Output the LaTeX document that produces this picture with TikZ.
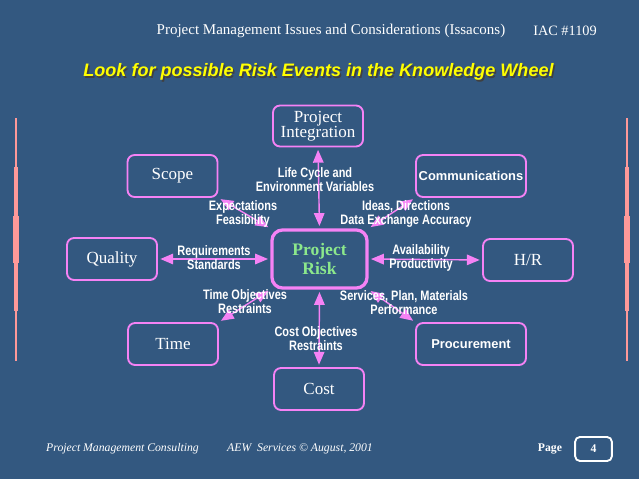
\documentclass[tikz,border=0pt]{standalone}
\usepackage{fontspec}
\setmainfont{Liberation Serif}
\setsansfont{Liberation Sans}
\newfontfamily\narrowsans[FakeStretch=0.8]{Liberation Sans}
\usetikzlibrary{arrows.meta}
\definecolor{slidebg}{RGB}{51,88,128}
\definecolor{wheelpink}{RGB}{245,130,245}
\definecolor{riskgreen}{RGB}{140,232,140}
\definecolor{strippink}{RGB}{255,153,153}
\definecolor{titleyellow}{RGB}{255,255,0}

\begin{document}
\begin{tikzpicture}[x=0.03cm,y=-0.03cm,
    area/.style={draw=wheelpink,line width=1.6pt,rounded corners=6pt,text=white,align=center,
        minimum width=2.7cm,minimum height=1.26cm,inner sep=1pt,font=\fontsize{14.5}{13}\selectfont},
    wide/.style={area,minimum width=3.3cm,font=\sffamily\bfseries\fontsize{11}{12}\selectfont},
    link/.style={wheelpink,line width=1.2pt,{Triangle[length=11pt,width=9pt]}-{Triangle[length=11pt,width=9pt]},
        shorten <=2pt,shorten >=2pt},
    lbl/.style={text=white,align=center,inner sep=0pt,font=\narrowsans\bfseries\fontsize{11.7}{12}\selectfont}]
    % background
    \fill[slidebg] (0,0) rectangle (639,479);
    \useasboundingbox (0,0) rectangle (639,479);
    % side strips
    \foreach \cx in {15.5,627} {
        \fill[strippink] (\cx-1,118) rectangle (\cx+1,361);
        \fill[strippink] (\cx-2,167) rectangle (\cx+2,311);
        \fill[strippink] (\cx-3,216) rectangle (\cx+3,263);
    }
    % header and title
    \node[text=white,font=\fontsize{12.8}{14}\selectfont] (head) at (331,31) {Project Management Issues and Considerations (Issacons)};
    \node[text=white,font=\fontsize{12.2}{14}\selectfont] (iac) at (565,31) {IAC \#1109};
    \node[text=black!75,font=\sffamily\bfseries\itshape\fontsize{15.4}{17}\selectfont] (shadow) at (320,73.5) {Look for possible Risk Events in the Knowledge Wheel};
    \node[text=titleyellow,font=\sffamily\bfseries\itshape\fontsize{15.4}{17}\selectfont] (title) at (318.5,72) {Look for possible Risk Events in the Knowledge Wheel};
    % knowledge areas
    \node[area,minimum height=1.23cm] (integ) at (318,126) {Project\\Integration};
    \node[area] (scope) at (172.5,176) {Scope};
    \node[wide] (comm) at (471,176) {Communications};
    \node[area] (quality) at (112,259) {Quality};
    \node[area] (hr) at (528,260) {H/R};
    \node[area] (time) at (173,344) {Time};
    \node[wide] (proc) at (471,344) {Procurement};
    \node[area] (cost) at (319,389) {Cost};
    % centre
    \node[area,line width=2.8pt,rounded corners=9pt,minimum width=2.85cm,minimum height=1.74cm,
        text=riskgreen,font=\bfseries\fontsize{15}{17}\selectfont] (risk) at (319.5,259) {Project\\Risk};
    % connectors
    \foreach \a/\b in {integ.south/risk.north,scope.south east/risk.north west,comm.south west/risk.north east,
        quality.east/risk.west,hr.west/risk.east,time.north east/risk.south west,
        proc.north west/risk.south east,cost.north/risk.south}
        \draw[link] (\a) -- (\b);
    % labels
    \node[lbl] (l-integ) at (315,180) {Life Cycle and\\Environment Variables};
    \node[lbl] (l-scope) at (243,214) {Expectations\\Feasibility};
    \node[lbl] (l-comm) at (406,214) {Ideas, Directions\\Data Exchange Accuracy};
    \node[lbl] (l-quality) at (214,258) {Requirements\\Standards};
    \node[lbl] (l-hr) at (421,258) {Availability\\Productivity};
    \node[lbl] (l-time) at (245,302) {Time Objectives\\Restraints};
    \node[lbl] (l-proc) at (404,303) {Services, Plan, Materials\\Performance};
    \node[lbl] (l-cost) at (316,339) {Cost Objectives\\Restraints};
    % footer
    \node[text=white,anchor=west,inner sep=0pt,font=\itshape\fontsize{10}{12}\selectfont] (consult) at (46,449) {Project Management Consulting};
    \node[text=white,anchor=west,inner sep=0pt,font=\itshape\fontsize{10}{12}\selectfont] (aew) at (227,449) {AEW\ \ Services \textcopyright{} August, 2001};
    \node[text=white,font=\bfseries\fontsize{10}{12}\selectfont] (page) at (550,449) {Page};
    \node[draw=white,line width=1.6pt,rounded corners=4pt,text=white,minimum width=1.1cm,minimum height=0.72cm,
        font=\bfseries\fontsize{10}{12}\selectfont] (pageno) at (593.5,449) {4};
\end{tikzpicture}
\end{document}
